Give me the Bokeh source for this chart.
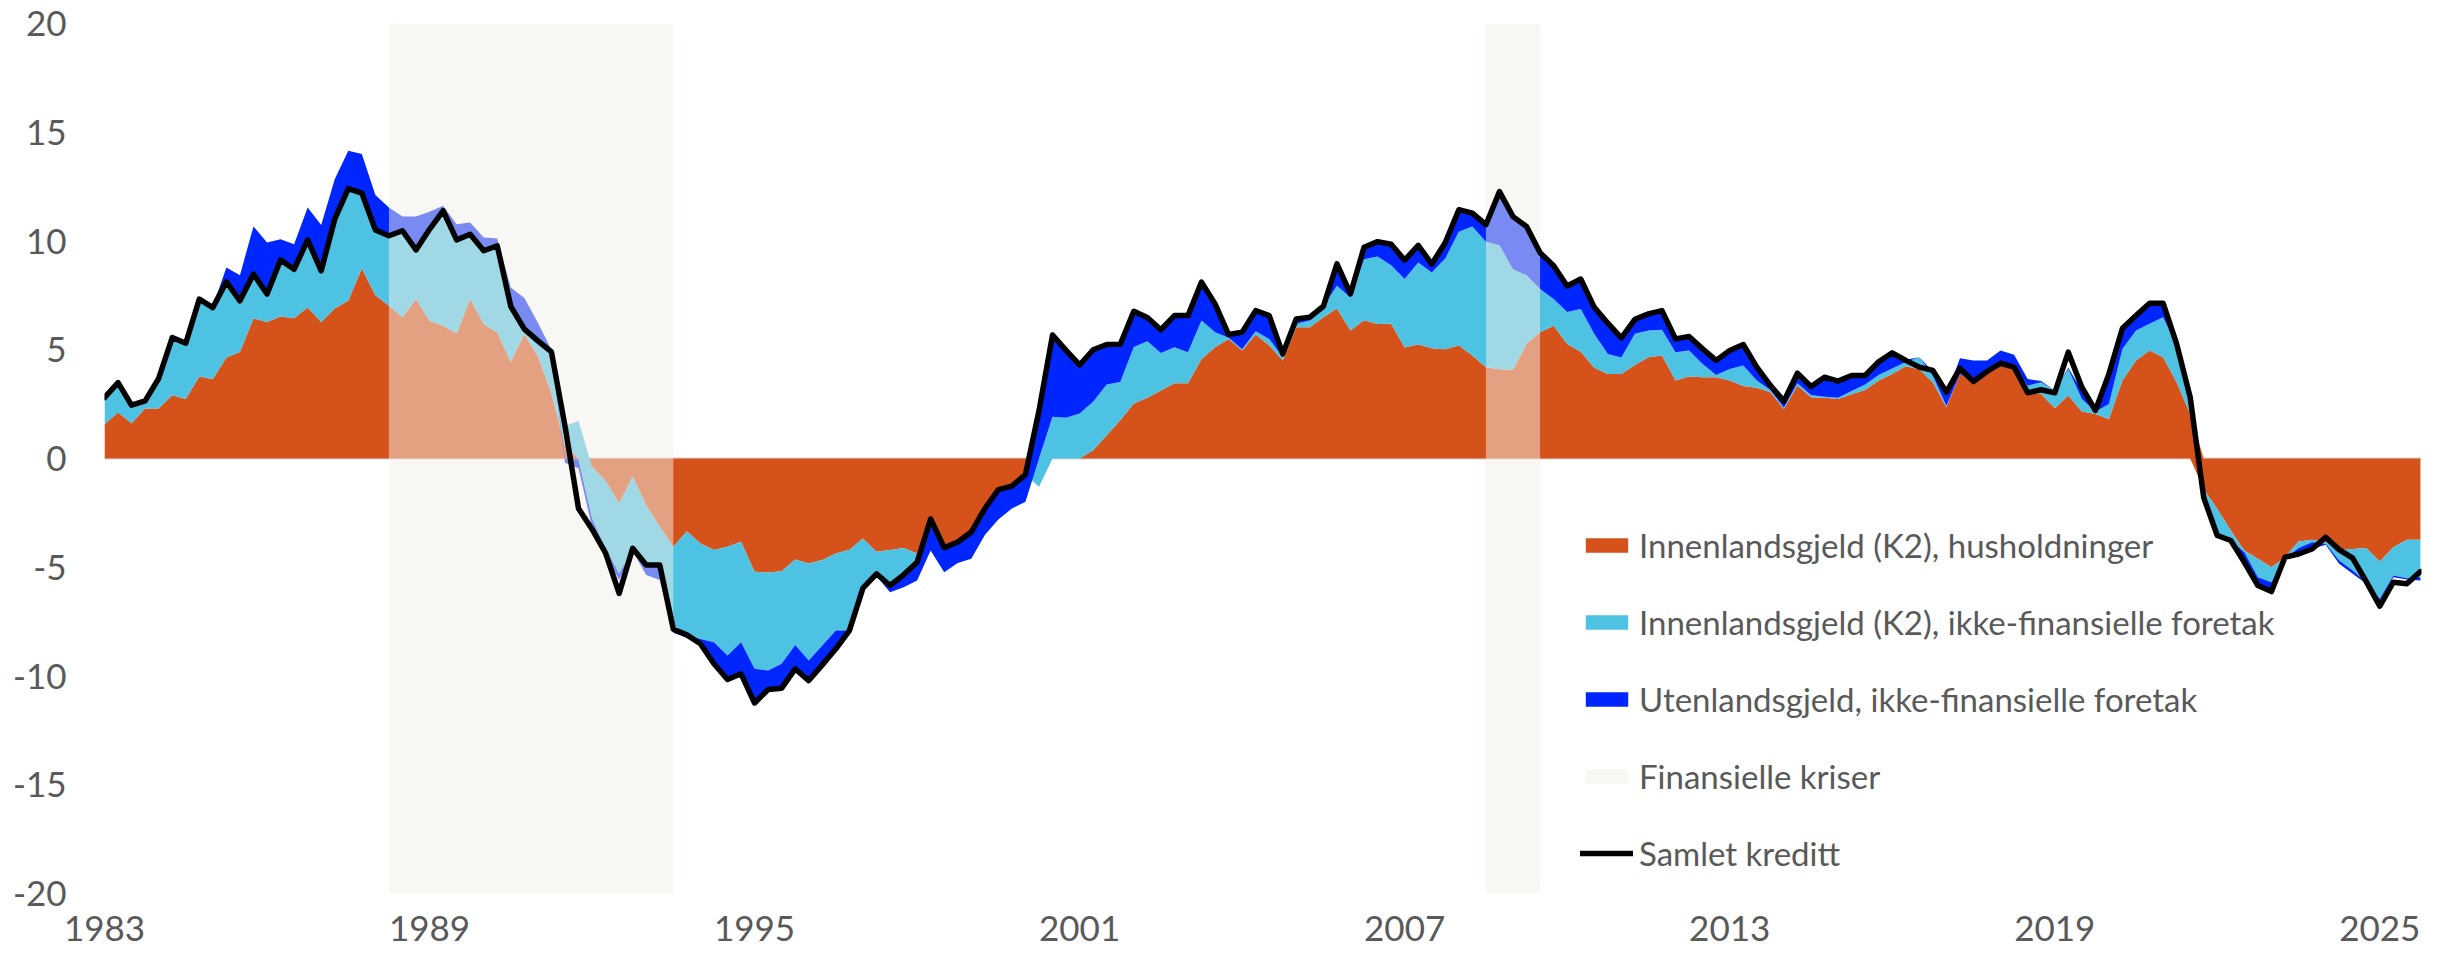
import numpy as np
from bokeh.plotting import figure
from bokeh.models import FixedTicker, Span, Legend, LegendItem, ColumnDataSource, Range1d
from bokeh.embed import file_html
from bokeh.resources import INLINE

# ---------------- data (quarterly, from 1983Q1) ----------------
start_year = 1983
periods_per_year = 4

household = [
    1.58, 2.11, 1.62, 2.30, 2.30, 2.91, 2.73, 3.77, 3.65, 4.64,
    4.90, 6.44, 6.28, 6.53, 6.45, 6.94, 6.28, 6.90, 7.25, 8.74,
    7.51, 7.02, 6.48, 7.33, 6.33, 6.10, 5.75, 7.33, 6.18, 5.79,
    4.44, 5.72, 4.70, 3.00, 0.60, -0.05, -0.38, -1.04, -2.07, -0.84,
    -2.15, -3.14, -4.06, -3.34, -3.91, -4.21, -4.06, -3.83, -5.21, -5.24,
    -5.18, -4.64, -4.83, -4.67, -4.37, -4.19, -3.68, -4.29, -4.21, -4.11,
    -4.37, -2.78, -4.10, -3.84, -3.38, -2.30, -1.43, -1.27, -0.74, 0.00,
    0.00, 0.00, 0.00, 0.38, 1.07, 1.76, 2.53, 2.79, 3.13, 3.46,
    3.46, 4.58, 5.12, 5.50, 4.97, 5.70, 5.20, 4.51, 6.04, 6.04,
    6.50, 6.90, 5.88, 6.36, 6.18, 6.20, 5.10, 5.24, 5.07, 5.02,
    5.20, 4.73, 4.20, 4.10, 4.08, 5.28, 5.80, 6.10, 5.26, 4.91,
    4.17, 3.88, 3.88, 4.30, 4.66, 4.74, 3.59, 3.77, 3.74, 3.74,
    3.59, 3.33, 3.25, 3.05, 2.28, 3.36, 2.82, 2.79, 2.74, 2.95,
    3.15, 3.59, 3.89, 4.24, 4.10, 3.50, 2.36, 3.89, 3.51, 3.97,
    4.28, 4.15, 3.05, 2.97, 2.31, 2.90, 2.16, 2.05, 1.82, 3.59,
    4.51, 4.97, 4.66, 3.51, 2.05, -1.40, -2.32, -3.31, -4.23, -4.61,
    -5.00, -4.54, -3.82, -3.74, -3.85, -4.16, -4.16, -4.12, -4.74, -4.08,
    -3.74, -3.73,
]

corporate = [
    1.22, 1.38, 0.83, 0.35, 1.38, 2.65, 2.57, 3.56, 3.29, 3.48,
    2.35, 2.04, 1.28, 2.60, 2.25, 3.11, 2.35, 4.10, 5.16, 3.46,
    3.00, 3.22, 3.99, 2.26, 4.21, 5.29, 4.30, 2.98, 3.37, 3.99,
    2.55, 0.25, 0.70, 1.90, 0.90, 1.72, -2.38, -3.10, -3.22, -3.37,
    -2.75, -1.76, -3.90, -4.80, -4.39, -4.24, -5.00, -4.62, -4.46, -4.51,
    -4.26, -3.93, -4.46, -3.93, -3.54, -3.72, -2.28, -1.01, -1.63, -1.24,
    -0.40, 0.00, 0.00, 0.00, 0.00, 0.00, 0.00, 0.00, 0.00, -1.30,
    1.92, 1.87, 2.07, 2.23, 2.33, 1.76, 2.60, 2.60, 1.72, 1.66,
    1.43, 1.76, 0.69, 0.05, 0.05, 0.15, 0.30, 0.15, 0.15, 0.30,
    0.50, 1.04, 1.52, 2.80, 3.11, 2.69, 3.15, 3.77, 3.48, 4.18,
    5.22, 5.94, 5.76, 5.71, 4.62, 3.15, 1.99, 1.23, 1.48, 1.96,
    1.55, 0.92, 0.76, 1.43, 1.23, 1.18, 1.30, 1.20, 0.61, 0.10,
    0.53, 0.95, 0.34, 0.10, 0.05, 0.10, 0.10, 0.05, 0.05, 0.15,
    0.25, 0.25, 0.25, 0.20, 0.55, 0.30, 0.05, 0.00, 0.00, 0.00,
    0.05, 0.20, 0.30, 0.54, 0.80, 1.22, 0.58, 0.10, 0.69, 1.45,
    1.38, 1.22, 1.84, 1.69, 0.85, -0.30, -1.07, -0.46, -0.08, -0.85,
    -0.69, -0.07, -0.30, -0.11, -0.07, -0.53, -0.99, -1.57, -1.71, -1.30,
    -1.76, -1.73,
]

foreign = [
    0.00, 0.00, 0.00, 0.00, 0.00, 0.00, 0.00, 0.05, 0.05, 0.66,
    1.18, 2.19, 2.37, 0.95, 1.15, 1.49, 2.10, 1.84, 1.74, 1.80,
    1.60, 1.30, 0.66, 1.54, 0.80, 0.23, 0.72, 0.54, 0.61, 0.33,
    0.87, 1.41, 0.84, 0.10, -0.20, -0.40, -0.40, -0.30, -0.30, -0.05,
    -0.46, -0.69, -0.05, -0.10, -0.25, -0.99, -1.10, -1.45, -1.57, -0.87,
    -1.12, -1.10, -0.92, -0.89, -0.84, -0.05, -0.10, -0.10, -0.31, -0.57,
    -0.84, -1.45, -1.13, -0.96, -1.23, -1.22, -1.37, -1.03, -1.25, 2.10,
    3.76, 3.10, 2.23, 2.39, 1.84, 1.73, 1.64, 1.09, 1.07, 1.45,
    1.68, 1.77, 1.30, 0.15, 0.79, 0.95, 1.07, 0.15, 0.23, 0.16,
    0.05, 1.01, 0.17, 0.55, 0.68, 0.96, 0.87, 0.79, 0.39, 0.73,
    1.02, 0.61, 0.79, 2.46, 2.42, 2.24, 1.67, 1.53, 1.19, 1.38,
    1.23, 1.42, 0.91, 0.67, 0.76, 0.88, 0.61, 0.64, 0.69, 0.67,
    0.85, 0.96, 0.61, 0.21, 0.31, 0.46, 0.40, 0.90, 0.72, 0.79,
    0.54, 0.71, 0.75, 0.10, 0.00, 0.20, 0.50, 0.72, 1.00, 0.54,
    0.64, 0.42, 0.30, 0.05, 0.00, 0.05, 0.38, 0.10, 1.38, 0.95,
    0.68, 0.95, 0.64, 0.07, 0.00, -0.10, -0.10, 0.00, -0.46, -0.38,
    -0.43, 0.00, -0.27, -0.31, -0.05, -0.15, -0.15, -0.07, -0.10, -0.08,
    -0.06, -0.15,
]

total = [
    2.80, 3.49, 2.45, 2.65, 3.68, 5.56, 5.30, 7.33, 6.94, 8.12,
    7.25, 8.48, 7.56, 9.13, 8.70, 10.05, 8.63, 11.00, 12.41, 12.20,
    10.51, 10.24, 10.47, 9.59, 10.54, 11.39, 10.05, 10.31, 9.55, 9.78,
    6.99, 5.95, 5.41, 4.90, 1.50, -2.30, -3.25, -4.35, -6.20, -4.13,
    -4.90, -4.90, -7.85, -8.11, -8.52, -9.44, -10.16, -9.90, -11.24, -10.62,
    -10.56, -9.67, -10.21, -9.49, -8.75, -7.91, -5.96, -5.30, -5.84, -5.35,
    -4.77, -2.78, -4.10, -3.84, -3.38, -2.30, -1.43, -1.27, -0.74, 2.20,
    5.68, 4.97, 4.30, 5.00, 5.24, 5.25, 6.77, 6.48, 5.92, 6.57,
    6.57, 8.11, 7.11, 5.70, 5.81, 6.80, 6.57, 4.81, 6.42, 6.50,
    7.00, 8.95, 7.57, 9.71, 9.97, 9.85, 9.12, 9.80, 8.94, 9.93,
    11.44, 11.28, 10.75, 12.27, 11.12, 10.67, 9.46, 8.86, 7.93, 8.25,
    6.95, 6.22, 5.55, 6.40, 6.65, 6.80, 5.50, 5.61, 5.04, 4.51,
    4.97, 5.24, 4.20, 3.36, 2.64, 3.92, 3.31, 3.74, 3.56, 3.82,
    3.82, 4.45, 4.86, 4.51, 4.20, 4.05, 3.05, 4.15, 3.54, 4.00,
    4.38, 4.20, 3.02, 3.16, 3.02, 4.89, 3.28, 2.21, 3.89, 5.99,
    6.57, 7.14, 7.14, 5.27, 2.82, -1.80, -3.54, -3.77, -4.77, -5.84,
    -6.12, -4.54, -4.39, -4.16, -3.62, -4.19, -4.58, -5.66, -6.79, -5.69,
    -5.76, -5.20,
]

crisis_start = [1988.25, 2008.5]
crisis_end = [1993.5, 2009.5]

series_names = [
    "Innenlandsgjeld (K2), husholdninger",
    "Innenlandsgjeld (K2), ikke-finansielle foretak",
    "Utenlandsgjeld, ikke-finansielle foretak",
]
band_name = "Finansielle kriser"
total_name = "Samlet kreditt"

x_tick_years = [1983, 1989, 1995, 2001, 2007, 2013, 2019, 2025]
y_ticks = [-20, -15, -10, -5, 0, 5, 10, 15, 20]

# ---------------- styling ----------------
colors = ["#D6521B", "#4EC2E2", "#0026FF"]
band_color = "#F1EFE7"
text_color = "#595959"
FONT = "Lato"

n = len(total)
x = start_year + np.arange(n) / periods_per_year


def stack_side(values):
    """True = positive stack. Zero values stay on the side of the previous value."""
    side = np.empty(len(values), dtype=bool)
    prev = True
    for k, val in enumerate(values):
        if val > 0:
            prev = True
        elif val < 0:
            prev = False
        side[k] = prev
    return side


# positive / negative stacking (like Highcharts "normal" stacking)
pos = np.zeros(n)
neg = np.zeros(n)
stack_bounds = []
for s in (household, corporate, foreign):
    v = np.asarray(s, dtype=float)
    up = stack_side(v)
    lo = np.where(up, pos, neg + v)
    hi = np.where(up, pos + v, neg)
    pos = pos + np.where(up, v, 0.0)
    neg = neg + np.where(up, 0.0, v)
    stack_bounds.append((lo, hi))

y_min, y_max = -20, 20
p = figure(
    width=2447, height=958,
    x_range=Range1d(1983, 2025.77), y_range=Range1d(y_min, y_max),
    output_backend="svg", toolbar_location=None,
    min_border_left=104, min_border_right=26, min_border_top=23, min_border_bottom=65,
    background_fill_color="white", border_fill_color="white",
)
p.outline_line_color = None
p.xgrid.visible = False
p.ygrid.visible = False

zero = Span(location=0, dimension="width", line_color="#D4D4D4", line_width=2, level="underlay")
p.add_layout(zero)

area_renderers = []
for (lo, hi), c in zip(stack_bounds, colors):
    src = ColumnDataSource(dict(x=x, lo=lo, hi=hi))
    r = p.varea(x="x", y1="lo", y2="hi", source=src, fill_color=c, fill_alpha=1.0)
    area_renderers.append(r)

band_src = ColumnDataSource(dict(left=crisis_start, right=crisis_end,
                                 bottom=[y_min] * len(crisis_start), top=[y_max] * len(crisis_start)))
band_r = p.quad(left="left", right="right", bottom="bottom", top="top", source=band_src,
                fill_color=band_color, fill_alpha=0.5, line_color=None)

line_src = ColumnDataSource(dict(x=x, y=total))
line_r = p.line(x="x", y="y", source=line_src, line_color="black", line_width=5.5,
                line_join="round", line_cap="round")

# axes
for ax in (p.xaxis[0], p.yaxis[0]):
    ax.axis_line_color = None
    ax.major_tick_line_color = None
    ax.minor_tick_line_color = None
    ax.major_tick_out = 0
    ax.major_tick_in = 0
    ax.major_label_text_font = FONT
    ax.major_label_text_font_size = "35px"
    ax.major_label_text_color = text_color

p.yaxis.ticker = FixedTicker(ticks=y_ticks)
p.yaxis.major_label_overrides = {t: str(t) for t in y_ticks}
p.yaxis.major_label_standoff = 38
p.xaxis.ticker = FixedTicker(ticks=x_tick_years)
p.xaxis.major_label_overrides = {t: str(t) for t in x_tick_years}
p.xaxis.major_label_standoff = 22

items = [LegendItem(label=nm, renderers=[r]) for nm, r in zip(series_names, area_renderers)]
items.append(LegendItem(label=band_name, renderers=[band_r]))
items.append(LegendItem(label=total_name, renderers=[line_r]))
legend = Legend(
    items=items, location=(1476, 20), orientation="vertical",
    glyph_width=53, glyph_height=18, label_height=36, spacing=37, label_standoff=6,
    padding=0, margin=0, border_line_color=None, background_fill_alpha=0,
    label_text_font=FONT, label_text_font_size="33px", label_text_color=text_color,
)
p.add_layout(legend)

open("out.html", "w").write(file_html(p, INLINE))
